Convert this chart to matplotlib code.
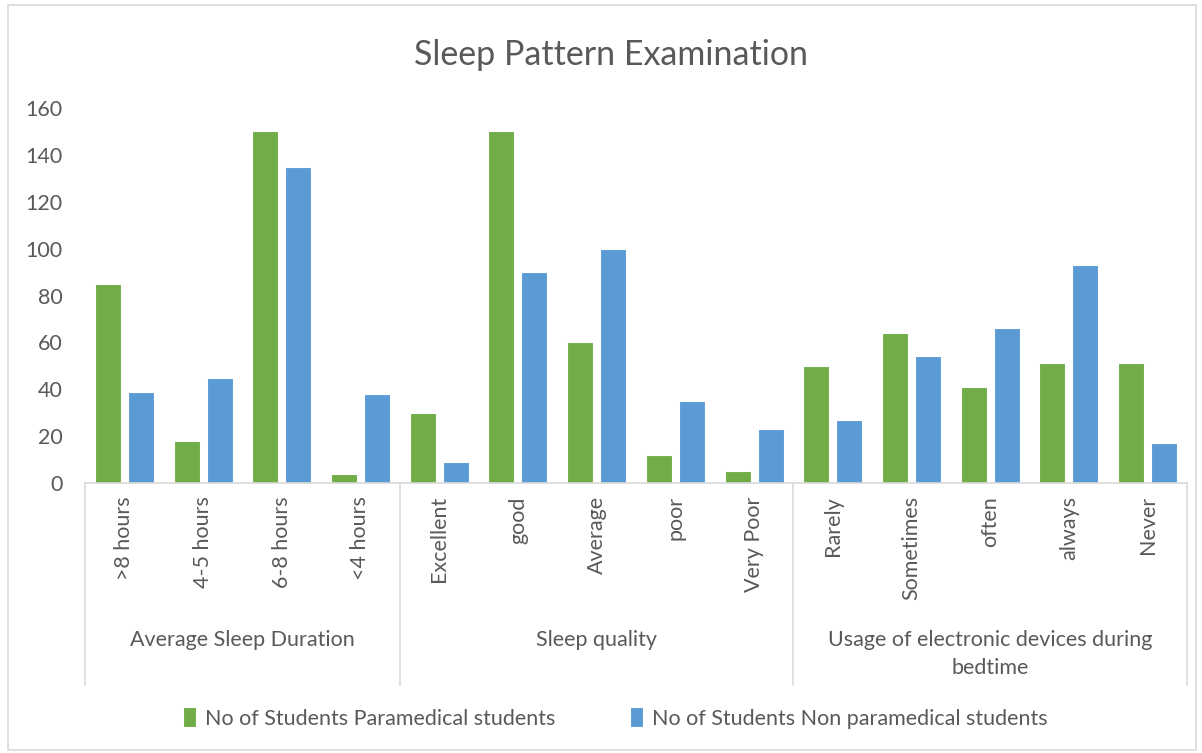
import matplotlib
matplotlib.use("Agg")
import matplotlib.pyplot as plt
from matplotlib.patches import Rectangle
import numpy as np

plt.rcParams['font.family'] = ['Lato', 'DejaVu Sans']

groups = ["Average Sleep Duration", "Sleep quality", "Usage of electronic devices during\nbedtime"]
group_categories = [
    [">8 hours", "4-5 hours", "6-8 hours", "<4 hours"],
    ["Excellent", "good", "Average", "poor", "Very Poor"],
    ["Rarely", "Sometimes", "often", "always", "Never"],
]
paramedical = [85, 18, 150, 4, 30, 150, 60, 12, 5, 50, 64, 41, 51, 51]
non_paramedical = [39, 45, 135, 38, 9, 90, 100, 35, 23, 27, 54, 66, 93, 17]
series_names = ["No of Students Paramedical students", "No of Students Non paramedical students"]
yticks = [0, 20, 40, 60, 80, 100, 120, 140, 160]

green = "#70AD47"
blue = "#5B9BD5"
text_col = "#595959"
line_col = "#D9D9D9"

categories = [c for g in group_categories for c in g]
n = len(categories)
x = np.arange(n)

fig = plt.figure(figsize=(12.02, 7.53), dpi=100)
ax = fig.add_axes([85/1202, 1-483/753, (1187-85)/1202, 375/753])

w = 0.33
ax.bar(x - 0.21, paramedical, width=w, color=green, edgecolor="white", linewidth=0.8, label=series_names[0])
ax.bar(x + 0.21, non_paramedical, width=w, color=blue, edgecolor="white", linewidth=0.8, label=series_names[1])

ax.set_xlim(-0.5, n - 0.5)
ax.set_ylim(0, 160)
ax.set_yticks(yticks)
ax.tick_params(axis='y', length=0, labelsize=15.5, labelcolor=text_col, pad=16)
ax.set_xticks([])
for s in ["top", "right", "left"]:
    ax.spines[s].set_visible(False)
ax.spines["bottom"].set_color(line_col)
ax.spines["bottom"].set_linewidth(1.2)

trans = ax.get_xaxis_transform()
for i, c in enumerate(categories):
    ax.text(i, -0.035, c, rotation=90, ha='center', va='top', fontsize=15.5,
            color=text_col, transform=trans, clip_on=False)

# group separators and labels
bounds = [-0.5]
for g in group_categories:
    bounds.append(bounds[-1] + len(g))
for b in bounds:
    ax.plot([b, b], [0, -0.539], transform=trans, color=line_col, lw=1.2, clip_on=False)
for gi, g in enumerate(groups):
    center = (bounds[gi] + bounds[gi + 1]) / 2
    ax.text(center, -0.393, g, ha='center', va='top', fontsize=15.5, color=text_col,
            transform=trans, linespacing=1.5, clip_on=False)

fig.text(0.508, 1 - 55/753, "Sleep Pattern Examination", ha='center', va='center',
         fontsize=24.5, color=text_col)

fig.legend(loc='center', bbox_to_anchor=(0.512, 1 - 718/753), ncol=2, frameon=False,
           handlelength=0.6, handleheight=1.0, handletextpad=0.4, columnspacing=3.5,
           fontsize=15.5, labelcolor=text_col)

fig.patches.append(Rectangle((8/1202, 3/753), 1188/1202, 745/753, transform=fig.transFigure,
                             fill=False, edgecolor=line_col, lw=1.2))

fig.savefig("out.png", dpi=100, facecolor="white")
